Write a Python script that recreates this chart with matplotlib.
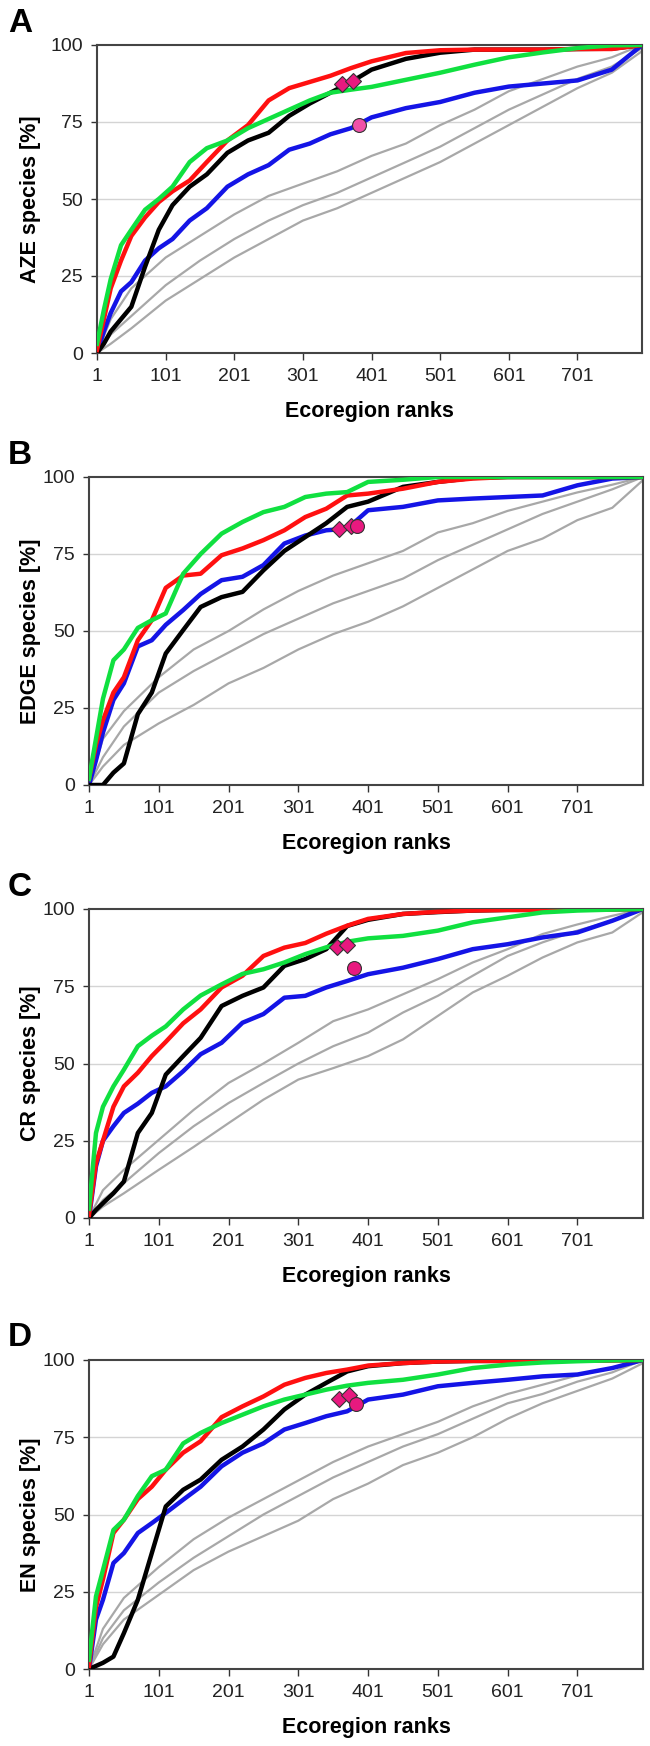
import matplotlib
matplotlib.use("Agg")
import matplotlib.pyplot as plt

plt.rcParams['font.family'] = ['Liberation Sans', 'DejaVu Sans']

# ecoregion ranks where the curves were read
RANKS = [1, 11, 21, 36, 51, 71, 91, 111, 136, 161, 191, 221, 251, 281, 311,
         341, 371, 401, 451, 501, 551, 601, 651, 701, 751, 795]
GRAY_RANKS = [1, 21, 51, 101, 151, 201, 251, 301, 351, 401, 451, 501, 551,
              601, 651, 701, 751, 795]
XTICKS = [1, 101, 201, 301, 401, 501, 601, 701]
YTICKS = [0, 25, 50, 75, 100]
N_ECO = 795

# panel A - AZE species
A_RED = [1, 11, 21, 30, 38, 44, 49, 52.5, 56, 62, 69, 74, 82, 86, 88, 90, 92.5,
         94.7, 97.4, 98.3, 98.5, 98.5, 98.5, 98.7, 98.7, 100]
A_GREEN = [3, 14, 24, 35, 40, 46.5, 50, 54, 62, 66.5, 69, 73, 76, 79, 82, 84.5,
           85.5, 86.4, 88.7, 91, 93.6, 96, 97.6, 99, 99.9, 100]
A_BLACK = [0, 3, 7, 11, 15, 28, 40, 48, 54, 58, 65, 69, 71.5, 77, 81, 84.5, 88,
           92, 95.5, 97.5, 98.5, 98.5, 98.5, 98.7, 98.8, 100]
A_BLUE = [0, 7, 13, 20, 23, 30, 34, 37, 43, 47, 54, 58, 61, 66, 68, 71, 73,
          76.5, 79.5, 81.5, 84.5, 86.5, 87.5, 88.5, 92, 100]
A_GRAY1 = [0, 11, 21, 31, 38, 45, 51, 55, 59, 64, 68, 74, 79, 85, 89, 93, 96, 100]
A_GRAY2 = [0, 6, 12, 22, 30, 37, 43, 48, 52, 57, 62, 67, 73, 79, 84, 89, 93, 99]
A_GRAY3 = [0, 3, 8, 17, 24, 31, 37, 43, 47, 52, 57, 62, 68, 74, 80, 86, 91, 98]
A_DIAMONDS = ([358, 374], [87.4, 88.2])
A_CIRCLE = ([383], [74])

# panel B - EDGE species
B_RED = [2, 13, 21, 30, 35, 47, 53.5, 64, 68, 68.6, 74.6, 76.8, 79.5, 82.7, 87,
         89.7, 94, 94.6, 96.2, 98.4, 99.5, 100, 100, 100, 100, 100]
B_GREEN = [2, 15, 28, 40.5, 44, 51, 53.5, 55.7, 68.6, 75, 81.6, 85.4, 88.6, 90.3,
           93.5, 94.6, 95.1, 98.4, 99.1, 100, 100, 100, 100, 100, 100, 100]
B_BLACK = [0, 0, 0, 4, 7, 23, 30, 42.7, 50.3, 57.8, 61, 62.7, 69.7, 76, 80.5, 85,
           90.3, 92, 96.8, 98.4, 99.7, 100, 100, 100, 100, 100]
B_BLUE = [0, 8, 17, 27.6, 33, 45, 47, 52, 56.8, 62, 66.5, 67.6, 71.4, 78.4, 81,
          82.7, 83.2, 89.2, 90.3, 92.4, 93, 93.5, 94, 97.3, 99.5, 100]
B_GRAY1 = [0, 15, 24, 35, 44, 50, 57, 63, 68, 72, 76, 82, 85, 89, 92, 95, 97.5, 100]
B_GRAY2 = [0, 9, 19, 30, 37, 43, 49, 54, 59, 63, 67, 73, 78, 83, 88, 92, 96, 100]
B_GRAY3 = [0, 6, 13, 20, 26, 33, 38, 44, 49, 53, 58, 64, 70, 76, 80, 86, 90, 99]
B_DIAMONDS = ([359, 376], [83.2, 84.2])
B_CIRCLE = ([385], [84.2])

# panel C - CR species
C_RED = [1, 17.7, 25, 36, 42.6, 47, 52.4, 57, 63, 67.5, 74.6, 78.4, 84.8, 87.5,
         89, 92, 94.6, 96.8, 98.4, 99.1, 99.5, 99.7, 99.7, 99.8, 99.9, 100]
C_GREEN = [3, 27.5, 36, 42.6, 48, 55.6, 59, 62, 67.5, 72, 75.6, 79, 80.5, 82.7,
           85.4, 87.6, 89.4, 90.5, 91.3, 93, 95.7, 97.3, 98.9, 99.5, 99.8, 100]
C_BLACK = [0, 2.6, 4.8, 8, 11.8, 27.5, 34, 46.4, 52.4, 58.3, 68.6, 71.9, 74.6,
           81.6, 83.8, 87, 94.5, 96.5, 98.4, 99, 99.5, 99.7, 99.7, 99.8, 99.9, 100]
C_BLUE = [0, 16.7, 25, 29.7, 34, 37, 40.5, 42.6, 47.5, 53, 56.7, 63.2, 66, 71.3,
          71.9, 74.6, 76.7, 78.9, 81, 83.8, 87, 88.6, 90.8, 92.4, 96.2, 100]
C_GRAY1 = [0, 9, 15.6, 25.3, 35, 43.7, 50, 56.7, 63.7, 67.5, 72.4, 77.3, 82.7,
           87, 91.9, 95, 97.8, 100]
C_GRAY2 = [0, 5.8, 11.3, 21, 29.7, 37.2, 43.7, 50, 55.6, 60, 66.5, 71.9, 78.4,
           84.8, 89.2, 93, 96.2, 100]
C_GRAY3 = [0, 3.7, 8, 15.6, 23, 30.7, 38.3, 44.8, 48.5, 52.4, 57.8, 65.4, 73,
           78.4, 84.3, 89.2, 92.4, 99]
C_DIAMONDS = ([356, 371], [87.6, 88.3])
C_CIRCLE = ([381], [80.8])

# panel D - EN species
D_RED = [1, 20, 29, 44, 48.3, 55, 59, 64.5, 70, 73.7, 81.5, 85, 88.2, 92, 94.2,
         95.8, 96.9, 98.2, 99, 99.5, 99.7, 99.7, 99.8, 99.8, 99.9, 100]
D_GREEN = [3, 23.5, 32, 45, 48.3, 56, 62.4, 64.5, 73, 76.4, 79.6, 82.3, 85, 87.2,
           88.8, 90.4, 91.7, 92.6, 93.6, 95.3, 97.4, 98.5, 99.2, 99.6, 99.9, 100]
D_BLACK = [0, 1, 2, 4, 11.6, 22.4, 37.5, 52.6, 58, 61.3, 67.7, 72, 77.5, 84,
           88.8, 92.6, 96.3, 98, 99, 99.5, 99.7, 99.7, 99.8, 99.8, 99.9, 100]
D_BLUE = [0, 16, 22.4, 34.3, 37.5, 44, 47.2, 50.5, 54.8, 59, 65.6, 70, 73, 77.5,
          79.6, 81.8, 83.4, 87.2, 88.8, 91.5, 92.6, 93.6, 94.7, 95.3, 97.4, 100]
D_GRAY1 = [0, 13, 23, 33, 42, 49, 55, 61, 67, 72, 76, 80, 85, 89, 92, 95, 97.5, 100]
D_GRAY2 = [0, 10, 19, 28, 36, 43, 50, 56, 62, 67, 72, 76, 81, 86, 89, 93, 96, 100]
D_GRAY3 = [0, 8, 16, 24, 32, 38, 43, 48, 55, 60, 66, 70, 75, 81, 86, 90, 94, 99]
D_DIAMONDS = ([359, 374], [87.5, 88.6])
D_CIRCLE = ([384], [85.8])

panels = [
    ("A", "AZE species [%]", A_RED, A_GREEN, A_BLACK, A_BLUE,
     [A_GRAY1, A_GRAY2, A_GRAY3], A_DIAMONDS, A_CIRCLE, '#f050a8'),
    ("B", "EDGE species [%]", B_RED, B_GREEN, B_BLACK, B_BLUE,
     [B_GRAY1, B_GRAY2, B_GRAY3], B_DIAMONDS, B_CIRCLE, '#e8197f'),
    ("C", "CR species [%]", C_RED, C_GREEN, C_BLACK, C_BLUE,
     [C_GRAY1, C_GRAY2, C_GRAY3], C_DIAMONDS, C_CIRCLE, '#e8197f'),
    ("D", "EN species [%]", D_RED, D_GREEN, D_BLACK, D_BLUE,
     [D_GRAY1, D_GRAY2, D_GRAY3], D_DIAMONDS, D_CIRCLE, '#e8197f'),
]

# axes boxes in pixels: left, top, right, bottom (figure 650x1746)
W, H = 650, 1746
boxes = [(97, 45, 642, 353), (89, 477, 643, 785),
         (89, 909, 643, 1218), (89, 1360, 643, 1669)]
letter_y = [24, 456, 888, 1337]

fig = plt.figure(figsize=(6.5, 17.46), dpi=100)

for (letter, ylabel, red, green, black, blue, grays, diam, circ, ccol), box, ly in \
        zip(panels, boxes, letter_y):
    l, t, r, b = box
    ax = fig.add_axes([l / W, 1 - b / H, (r - l) / W, (b - t) / H])

    for g in grays:
        ax.plot(GRAY_RANKS, g, color='#a8a8a8', lw=1.6, zorder=2)
    ax.plot(RANKS, blue, color='#1414e6', lw=3.2, zorder=3)
    ax.plot(RANKS, black, color='black', lw=3.2, zorder=4)
    ax.plot(RANKS, red, color='#ff1010', lw=3.2, zorder=5)
    ax.plot(RANKS, green, color='#10e040', lw=3.2, zorder=6)

    ax.plot(diam[0], diam[1], 'D', color='#e8197f', mec='#333333', mew=0.8,
            ms=8, zorder=8, ls='none')
    ax.plot(circ[0], circ[1], 'o', color=ccol, mec='#333333', mew=0.8,
            ms=10, zorder=8, ls='none')

    ax.set_xlim(1, N_ECO)
    ax.set_ylim(0, 100)
    ax.set_xticks(XTICKS)
    ax.set_yticks(YTICKS)
    ax.tick_params(axis='x', length=5, width=1, colors='#333333', pad=6,
                   labelsize=14, labelcolor='#222222')
    ax.tick_params(axis='y', length=4, width=1, colors='#333333', pad=6,
                   labelsize=14, labelcolor='#222222')
    for y in [25, 50, 75]:
        ax.axhline(y, color='#d4d4d4', lw=1, zorder=1)
    for s in ax.spines.values():
        s.set_color('#444444')
        s.set_linewidth(1.5)

    ax.set_ylabel(ylabel, fontsize=15.5, fontweight='bold')
    ax.yaxis.set_label_coords(-(l - 41) / (r - l), 0.5)
    ax.set_xlabel("Ecoregion ranks", fontsize=15.5, fontweight='bold')
    ax.xaxis.set_label_coords(0.5, -48 / (b - t))

    fig.text(8 / W, 1 - ly / H, letter, fontsize=24, fontweight='bold',
             ha='left', va='center')

fig.savefig("out.png", dpi=100)
